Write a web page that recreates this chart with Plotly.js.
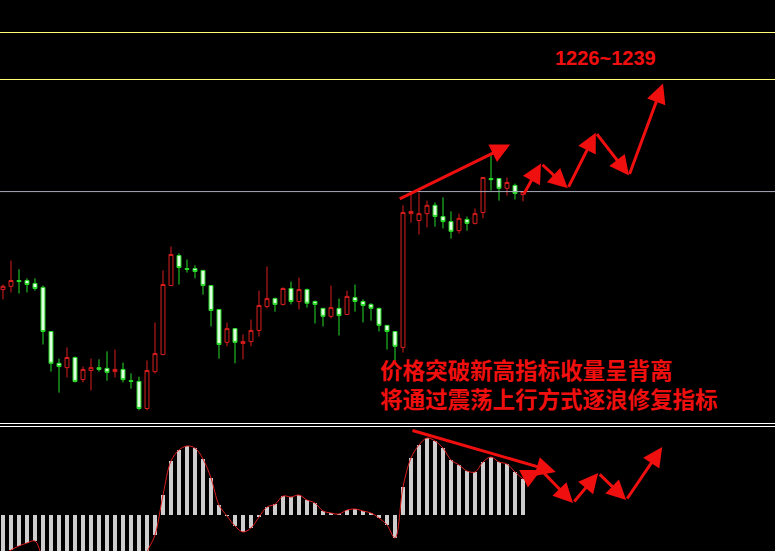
<!DOCTYPE html>
<html>
<head>
<meta charset="utf-8">
<script src="https://cdn.plot.ly/plotly-3.0.1.min.js"></script>
<style>html,body{margin:0;padding:0;background:#000;}#chart{width:775px;height:551px;}</style>
</head>
<body>
<div id="chart"></div>
<script>
// ---- data ----
const openP  = [1167.9,1168.8,1170.4,1170.4,1169.6,1168.5,1156.3,1147.5,1146.3,1149.1,1143.0,1145.5,1146.3,1146.1,1145.2,1145.8,1142.7,1142.5,1135.0,1145.2,1149.9,1169.0,1177.3,1173.7,1173.7,1173.2,1169.0,1162.4,1153.3,1157.1,1153.0,1153.5,1156.6,1163.2,1165.4,1163.8,1168.2,1164.6,1167.9,1164.6,1162.7,1160.5,1162.7,1161.0,1165.7,1164.6,1163.8,1162.7,1158.0,1156.3,1151.9,1188.9,1187.0,1188.9,1191.2,1188.1,1186.7,1184.2,1187.3,1186.2,1189.2,1198.6,1198.6,1195.9,1196.7,1194.2];
const highP  = [1169.3,1175.9,1173.5,1171.0,1171.0,1169.0,1156.3,1148.8,1151.9,1149.4,1146.6,1148.8,1148.6,1150.8,1151.3,1147.7,1144.7,1143.8,1148.3,1158.8,1173.2,1179.8,1177.9,1176.2,1174.6,1173.2,1169.0,1162.4,1158.8,1157.1,1155.5,1159.6,1167.6,1174.3,1165.7,1168.5,1170.1,1171.2,1168.2,1164.9,1162.7,1169.0,1165.4,1167.6,1169.3,1165.2,1164.1,1162.9,1158.0,1156.3,1191.2,1194.5,1194.7,1192.5,1192.0,1193.4,1189.5,1188.9,1188.1,1190.3,1198.9,1205.0,1198.6,1198.9,1197.2,1195.0];
const lowP   = [1165.2,1167.1,1166.8,1167.1,1167.6,1152.7,1145.2,1139.4,1143.6,1142.2,1142.2,1140.0,1145.2,1142.7,1143.6,1142.2,1140.5,1134.5,1134.5,1144.7,1149.9,1169.0,1169.3,1172.6,1171.0,1166.5,1157.7,1148.8,1152.2,1147.5,1148.6,1152.2,1154.9,1162.7,1161.8,1163.5,1163.8,1162.4,1162.9,1158.5,1157.7,1159.9,1155.2,1161.0,1161.8,1158.8,1159.3,1156.3,1151.3,1148.3,1150.5,1186.4,1183.1,1185.1,1185.3,1184.8,1182.0,1183.4,1184.2,1185.9,1187.6,1195.3,1192.5,1193.9,1192.8,1192.3];
const closeP = [1168.8,1170.4,1170.1,1169.3,1168.2,1156.3,1147.5,1146.6,1149.1,1142.5,1145.8,1146.3,1145.8,1145.0,1145.8,1143.0,1142.5,1135.0,1145.5,1150.2,1169.3,1177.6,1174.0,1173.5,1172.9,1169.0,1162.1,1152.7,1157.1,1153.3,1153.5,1156.6,1163.5,1165.4,1163.8,1168.2,1164.6,1167.9,1164.1,1163.8,1160.5,1162.9,1160.7,1166.0,1164.6,1163.5,1162.7,1158.0,1156.3,1152.2,1189.2,1189.5,1188.9,1191.2,1188.1,1186.7,1184.0,1187.6,1186.2,1188.9,1198.9,1198.3,1195.9,1197.5,1194.5,1195.0];
const macdHist = [-2.05,-1.75,-1.55,-1.4,-1.3,-2.15,-2.55,-3.15,-3.55,-3.85,-4.05,-4.15,-4.15,-4.05,-3.9,-3.65,-3.35,-2.95,-1.85,-1.0,1.0,2.7,3.25,3.45,3.35,2.8,1.85,0.5,-0.05,-0.55,-0.85,-0.65,-0.1,0.4,0.53,0.95,0.9,1.0,0.75,0.6,0.2,0.1,0.05,0.25,0.3,0.2,0.1,-0.15,-0.5,-1.15,1.4,2.85,3.5,3.85,3.7,3.35,2.75,2.5,2.2,2.15,2.65,2.9,2.65,2.55,2.15,1.8];
const levelLines = [1239, 1226];
const pivotLine = 1195.0;
const targetLabel = "1226~1239";
const noteLines = ["价格突破新高指标收量呈背离", "将通过震荡上行方式逐浪修复指标"];
// arrow paths: [x index, value]
const priceTrendArrow = [[49.4,1192.8],[63.4,1208.0]];
const pricePathX = [65.0,67.25,70.6,74.1,78.25,82.5];
const pricePathY = [1193.9,1202.8,1195.9,1211.3,1199.45,1224.9];
const histTrendArrow = [[51,4.25],[69.1,2.15]];
const histPathX = [65.0,67.25,71.25,74.4,77.9,82.4];
const histPathY = [1.8,2.25,0.6,2.1,0.75,3.4];

const idx = openP.map((_, i) => i);
const RED = 'rgb(240,15,15)';

const traces = [
  {
    type: 'candlestick', x: idx, open: openP, high: highP, low: lowP, close: closeP,
    xaxis: 'x', yaxis: 'y',
    increasing: {line: {color: 'rgb(220,30,30)', width: 1}, fillcolor: '#000'},
    decreasing: {line: {color: 'rgb(40,220,40)', width: 1}, fillcolor: 'rgb(225,255,225)'},
    whiskerwidth: 0, hoverinfo: 'skip'
  },
  {
    type: 'bar', x: idx, y: macdHist, xaxis: 'x', yaxis: 'y2',
    width: 0.38, marker: {color: 'rgb(205,205,205)', line: {width: 0}}, hoverinfo: 'skip'
  },
  {
    type: 'scatter', mode: 'lines', x: idx, y: macdHist, xaxis: 'x', yaxis: 'y2',
    line: {color: 'rgb(220,30,30)', width: 1, shape: 'spline'}, hoverinfo: 'skip'
  }
];

const shapes = [];
levelLines.forEach(v => shapes.push({type:'line', xref:'paper', x0:0, x1:1, yref:'y', y0:v, y1:v, line:{color:'rgb(255,255,120)', width:1}}));
shapes.push({type:'line', xref:'paper', x0:0, x1:1, yref:'y', y0:pivotLine, y1:pivotLine, line:{color:'rgb(170,170,190)', width:1}});
shapes.push({type:'line', xref:'paper', x0:0, x1:1, yref:'paper', y0:1-423.5/551, y1:1-423.5/551, line:{color:'#fff', width:1}});
shapes.push({type:'line', xref:'paper', x0:0, x1:1, yref:'paper', y0:1-426.5/551, y1:1-426.5/551, line:{color:'#fff', width:1}});

const annotations = [];
function arrow(x0, y0, x1, y1, yref) {
  annotations.push({x: x1, y: y1, ax: x0, ay: y0, xref: 'x', yref: yref, axref: 'x', ayref: yref,
    showarrow: true, arrowhead: 2, arrowsize: 1.3, arrowwidth: 3, arrowcolor: RED, text: ''});
}
arrow(priceTrendArrow[0][0], priceTrendArrow[0][1], priceTrendArrow[1][0], priceTrendArrow[1][1], 'y');
for (let i = 0; i < pricePathX.length - 1; i++) arrow(pricePathX[i], pricePathY[i], pricePathX[i+1], pricePathY[i+1], 'y');
arrow(histTrendArrow[0][0], histTrendArrow[0][1], histTrendArrow[1][0], histTrendArrow[1][1], 'y2');
for (let i = 0; i < histPathX.length - 1; i++) arrow(histPathX[i], histPathY[i], histPathX[i+1], histPathY[i+1], 'y2');

annotations.push({xref:'paper', yref:'paper', x:605/775, y:1-58/551, xanchor:'center', yanchor:'middle', showarrow:false,
  text: targetLabel, font:{family:'Liberation Sans, Arial, sans-serif', size:20, color:RED, weight:'bold'}});
annotations.push({xref:'paper', yref:'paper', x:378/775, y:1-383/551, xanchor:'left', yanchor:'middle', align:'left', showarrow:false,
  text: noteLines.join('<br>'), font:{family:'Noto Sans CJK SC, sans-serif', size:22.5, color:RED, weight:'bold'}});

const layout = {
  width: 775, height: 551, margin: {l:0, r:0, t:0, b:0},
  paper_bgcolor: '#000', plot_bgcolor: '#000', showlegend: false,
  xaxis: {range: [-0.375, 96.5], visible: false, rangeslider: {visible: false}, fixedrange: true},
  yaxis: {domain: [1-420/551, 1], range: [1131.819, 1247.989], visible: false, fixedrange: true},
  yaxis2: {domain: [0, 1-428/551], range: [-1.8, 4.35], visible: false, fixedrange: true},
  bargap: 0, shapes: shapes, annotations: annotations
};
Plotly.newPlot('chart', traces, layout, {displayModeBar: false, staticPlot: true});
</script>
</body>
</html>
